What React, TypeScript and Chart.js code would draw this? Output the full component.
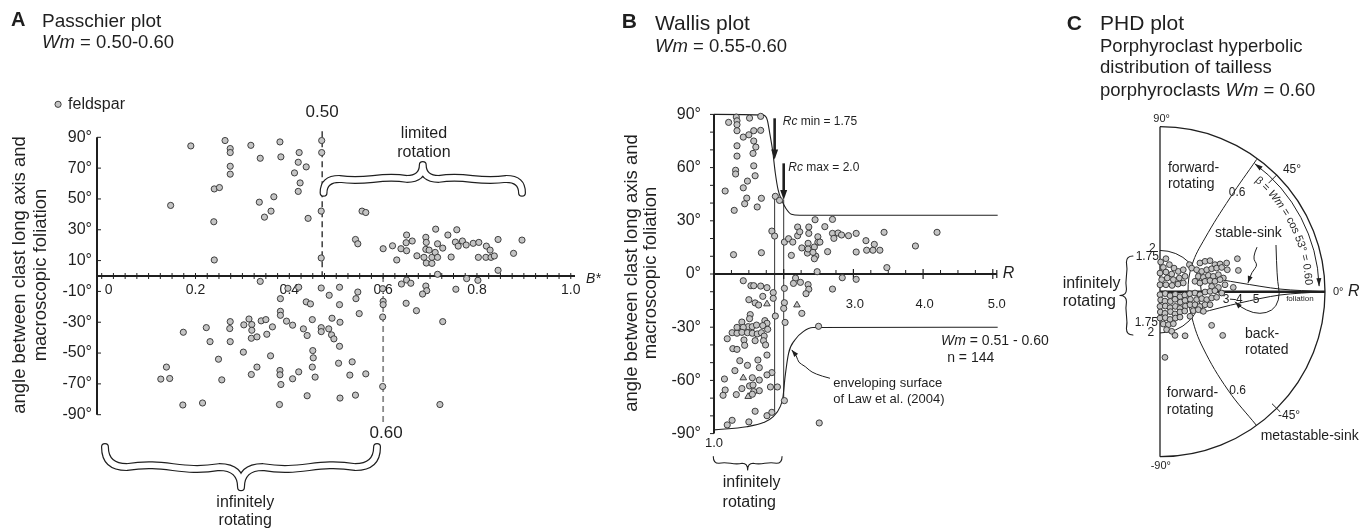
import React, { useEffect, useRef } from "react";
import { Chart, registerables } from "chart.js";

Chart.register(...registerables);

const FIG_W = 1367;
const FIG_H = 531;
const FONT = '"Liberation Sans", Arial, Helvetica, sans-serif';
const INK = "#1f1f1f";
const DOT_FILL = "#c4c4c4";
const DOT_EDGE = "#2e2e2e";

type P = [number, number];

// ---------------- Panel A : Passchier plot (B*, angle) ----------------
const passchierUpper: P[] = [
  [0.190, 84.4], [0.147, 45.8], [0.263, 87.9], [0.274, 82.7], [0.274, 80.1], [0.274, 71.2], [0.274, 66.1],
  [0.240, 56.5], [0.251, 57.4], [0.239, 35.2], [0.240, 10.4], [0.318, 84.8], [0.338, 76.4], [0.380, 87.0],
  [0.382, 77.3], [0.421, 80.1], [0.419, 73.8], [0.436, 70.8], [0.411, 66.9], [0.423, 60.4], [0.419, 54.9],
  [0.336, 47.9], [0.367, 51.4], [0.361, 42.1], [0.347, 38.2], [0.440, 37.4], [0.469, 87.9], [0.469, 80.1],
  [0.468, 42.1], [0.468, 11.7], [0.555, 42.1], [0.563, 41.2], [0.541, 23.7], [0.546, 20.9], [0.600, 17.7],
  [0.620, 19.6], [0.629, 10.4], [0.638, 17.7], [0.650, 26.6], [0.649, 21.6], [0.662, 22.7], [0.650, 16.4],
  [0.672, 13.1], [0.691, 25.1], [0.692, 21.8], [0.691, 17.3], [0.698, 16.8], [0.687, 12.1], [0.692, 8.4],
  [0.704, 8.2], [0.704, 12.1], [0.711, 15.3], [0.716, 12.1], [0.716, 20.9], [0.727, 18.1], [0.712, 30.4],
  [0.716, 1.1], [0.738, 26.6], [0.745, 12.3], [0.757, 30.0], [0.754, 22.0], [0.760, 19.4], [0.769, 22.7],
  [0.777, 20.1], [0.792, 21.2], [0.804, 21.8], [0.803, 12.1], [0.820, 19.4], [0.828, 16.8], [0.819, 12.1],
  [0.830, 12.1], [0.837, 13.0], [0.845, 23.7], [0.845, 3.7], [0.878, 14.7], [0.896, 23.3],
];
const passchierLower: P[] = [
  [0.338, -3.5], [0.397, -8.0], [0.420, -7.3], [0.381, -14.7], [0.381, -22.9], [0.381, -25.5], [0.394, -29.3],
  [0.407, -31.9], [0.314, -27.9], [0.303, -31.7], [0.320, -31.5], [0.320, -35.2], [0.319, -40.4], [0.331, -39.5],
  [0.340, -29.1], [0.350, -28.3], [0.364, -33.0], [0.352, -37.8], [0.360, -51.8], [0.274, -29.6], [0.273, -34.1],
  [0.274, -42.6], [0.223, -33.5], [0.231, -42.6], [0.174, -36.5], [0.249, -54.0], [0.302, -49.4], [0.331, -59.1],
  [0.319, -63.9], [0.256, -67.4], [0.138, -59.1], [0.126, -66.9], [0.145, -66.5], [0.173, -83.7], [0.215, -82.4],
  [0.380, -61.3], [0.380, -64.1], [0.382, -70.4], [0.407, -66.7], [0.379, -83.4], [0.420, -62.2],
  [0.468, -7.8], [0.485, -12.5], [0.507, -7.3], [0.436, -16.8], [0.445, -18.1], [0.507, -18.6], [0.449, -28.3],
  [0.491, -27.4], [0.508, -30.0], [0.430, -34.3], [0.438, -38.6], [0.468, -33.5], [0.468, -36.1], [0.484, -34.3],
  [0.490, -38.2], [0.495, -40.8], [0.507, -45.6], [0.450, -48.4], [0.451, -53.1], [0.449, -59.1], [0.455, -65.6],
  [0.505, -56.6], [0.534, -55.7], [0.529, -64.3], [0.563, -63.5], [0.438, -77.7], [0.508, -79.2], [0.541, -77.3],
  [0.546, -10.4], [0.542, -14.7], [0.549, -24.4], [0.599, -8.2], [0.600, -16.4], [0.600, -18.6], [0.599, -26.6],
  [0.599, -71.7], [0.639, -5.2], [0.650, -2.6], [0.659, -4.7], [0.649, -17.7], [0.671, -22.5], [0.691, -6.5],
  [0.693, -9.5], [0.684, -11.7], [0.755, -8.6], [0.778, -1.7], [0.802, -2.8], [0.727, -29.6], [0.721, -83.4],
];
const passchierXTicks = [0, 0.2, 0.4, 0.6, 0.8, 1.0];
const passchierXTickLabels = ["0", "0.2", "0.4", "0.6", "0.8", "1.0"];
const passchierYTicks = [90, 70, 50, 30, 10, -10, -30, -50, -70, -90];
const passchierCritical = [0.47, 0.6];
const passchierCriticalLabels = ["0.50", "0.60"];

// ---------------- Panel B : Wallis plot (R, angle) ----------------
const wallisCircles: P[] = [
  [1.21, 85.5], [1.32, 88.5], [1.33, 86.4], [1.33, 84.2], [1.33, 80.8], [1.51, 87.9], [1.67, 88.9], [1.42, 77.2],
  [1.50, 78.5], [1.57, 80.8], [1.67, 81.0], [1.57, 75.0], [1.60, 71.6], [1.33, 72.3], [1.33, 66.5], [1.56, 68.0],
  [1.57, 61.0], [1.31, 58.5], [1.31, 56.4], [1.48, 52.4], [1.59, 55.4], [1.42, 48.6], [1.16, 46.8], [1.47, 42.8],
  [1.68, 42.7], [1.44, 39.6], [1.29, 35.9], [1.62, 37.8], [1.88, 43.8], [1.94, 41.5], [1.83, 24.2], [1.87, 21.4],
  [1.28, 10.9], [1.68, 12.0],
  [2.01, 18.0], [2.07, 19.9], [2.13, 18.0], [2.20, 21.6], [2.20, 26.5], [2.23, 23.8], [2.11, 10.5], [2.26, 14.7],
  [2.34, 11.8], [2.36, 26.5], [2.36, 22.9], [2.35, 17.3], [2.35, 14.1], [2.45, 30.6], [2.49, 21.0], [2.49, 17.9],
  [2.52, 18.0], [2.44, 15.2], [2.46, 10.1], [2.42, 12.2], [2.44, 8.6], [2.48, 1.3], [2.59, 26.7], [2.70, 30.8],
  [2.63, 12.6], [2.70, 22.9], [2.72, 20.1], [2.78, 23.1], [2.83, 22.0], [2.93, 21.6], [3.04, 22.9], [3.04, 12.4],
  [3.18, 18.8], [3.30, 16.7], [3.19, 13.4], [3.28, 13.4], [3.38, 13.4], [3.44, 23.5], [3.48, 3.6], [3.89, 15.8],
  [4.20, 23.5],
  [2.01, -8.1], [2.01, -16.2], [2.00, -19.4], [2.02, -27.3], [2.01, -71.4], [2.17, -2.3], [2.14, -5.3], [2.24, -4.7],
  [2.35, -6.0], [2.36, -8.6], [2.32, -11.1], [2.26, -22.2], [2.50, -29.5], [2.51, -84.0], [2.70, -8.5], [2.84, -2.1],
  [3.04, -3.0],
  [1.42, -3.8], [1.53, -6.6], [1.57, -6.6], [1.67, -6.8], [1.76, -7.7], [1.85, -10.5], [1.70, -12.6], [1.85, -13.7],
  [1.50, -14.5], [1.59, -16.3], [1.64, -17.5], [1.88, -23.7], [1.52, -22.9], [1.51, -25.2], [1.40, -27.1], [1.49, -29.7],
  [1.33, -30.1], [1.42, -30.1], [1.55, -29.7], [1.61, -28.8], [1.73, -26.3], [1.76, -27.8], [1.70, -29.1], [1.77, -31.2],
  [1.26, -33.1], [1.33, -33.4], [1.40, -32.9], [1.48, -33.1], [1.55, -33.4], [1.62, -33.8], [1.68, -33.1], [1.72, -35.0],
  [1.19, -36.5], [1.43, -37.2], [1.59, -37.6], [1.71, -37.6], [1.74, -40.0], [1.44, -40.2], [1.27, -42.1], [1.33, -42.5],
  [1.76, -45.7], [1.37, -48.9], [1.63, -48.5], [1.48, -51.5], [1.65, -52.8], [1.30, -54.5], [1.83, -55.6], [1.76, -56.9],
  [1.15, -59.2], [1.55, -58.5], [1.65, -59.8], [1.81, -63.7], [1.91, -63.7], [1.51, -63.1], [1.40, -64.6], [1.56, -62.6],
  [1.65, -65.8], [1.57, -66.3], [1.16, -65.4], [1.32, -68.0], [1.55, -67.8], [1.13, -68.4], [1.59, -77.4], [1.76, -79.9],
  [1.83, -78.0], [1.50, -83.4], [1.26, -82.5], [1.19, -85.1],
];
const wallisTriangles: P[] = [[1.76, -16.9], [2.19, -17.5], [1.42, -58.6], [1.49, -69.1]];
const wallisUpperEnvelope: P[] = [
  [1.0, 90], [1.71, 89.6], [1.765, 86.8], [1.80, 79.3], [1.84, 69.9], [1.88, 56.8], [1.92, 47.4],
  [1.97, 41.7], [2.03, 37.1], [2.11, 33.7], [2.23, 33.1], [5.07, 33.1],
];
const wallisLowerEnvelope: P[] = [
  [1.0, -87.9], [1.47, -86.1], [1.71, -83.8], [1.85, -80.4], [1.95, -74.8], [1.99, -69.2], [2.02, -57.9],
  [2.07, -44.7], [2.16, -37.2], [2.28, -32.5], [2.42, -30.2], [5.07, -30.0],
];
const wallisRc = [1.87, 2.0];
const wallisRcSpan: P[] = [[45, -78], [42, -72]];
const wallisXTicks = [3, 4, 5];
const wallisXTickLabels = ["3.0", "4.0", "5.0"];
const wallisYTicks = [90, 60, 30, 0, -30, -60, -90];

// ---------------- Panel C : PHD plot (normalised net coordinates) ----------------
const phdPoints: P[] = [
  [0.004, 0.180], [0.036, 0.200], [0.020, 0.147], [0.057, 0.164], [0.085, 0.143], [0.000, 0.113], [0.036, 0.119],
  [0.071, 0.107], [0.111, 0.123], [0.141, 0.133], [0.010, 0.073], [0.044, 0.083], [0.081, 0.073], [0.117, 0.083],
  [0.152, 0.093], [0.000, 0.042], [0.036, 0.042], [0.073, 0.038], [0.109, 0.046], [0.141, 0.053], [0.178, 0.164],
  [0.192, 0.143],
  [0.242, 0.174], [0.273, 0.184], [0.303, 0.188], [0.333, 0.164], [0.364, 0.168], [0.404, 0.174], [0.408, 0.133],
  [0.469, 0.200], [0.475, 0.129], [0.222, 0.133], [0.253, 0.123], [0.283, 0.133], [0.313, 0.139], [0.343, 0.143],
  [0.374, 0.147], [0.232, 0.093], [0.263, 0.087], [0.293, 0.099], [0.323, 0.093], [0.354, 0.103], [0.384, 0.083],
  [0.212, 0.063], [0.242, 0.053], [0.273, 0.063], [0.303, 0.067], [0.333, 0.063], [0.364, 0.073], [0.394, 0.042],
  [0.444, 0.026], [0.313, 0.032], [0.354, 0.026],
  [0.000, -0.018], [0.032, -0.012], [0.061, -0.024], [0.093, -0.016], [0.121, -0.030], [0.150, -0.020], [0.180, -0.012],
  [0.004, -0.050], [0.030, -0.057], [0.063, -0.059], [0.091, -0.046], [0.123, -0.063], [0.152, -0.053], [0.184, -0.046],
  [0.000, -0.089], [0.032, -0.087], [0.061, -0.097], [0.093, -0.089], [0.121, -0.101], [0.154, -0.087], [0.182, -0.079],
  [0.002, -0.123], [0.030, -0.131], [0.063, -0.121], [0.091, -0.135], [0.121, -0.123], [0.150, -0.117],
  [0.000, -0.160], [0.032, -0.158], [0.061, -0.168], [0.093, -0.160], [0.121, -0.154],
  [0.020, -0.196], [0.051, -0.200], [0.081, -0.194], [0.040, -0.230], [0.071, -0.240], [0.091, -0.265],
  [0.212, -0.008], [0.242, -0.018], [0.273, -0.002], [0.303, 0.002], [0.333, 0.006], [0.374, -0.008], [0.222, -0.048],
  [0.253, -0.042], [0.283, -0.048], [0.313, -0.038], [0.343, -0.034], [0.212, -0.079], [0.242, -0.089], [0.273, -0.079],
  [0.303, -0.079], [0.202, -0.115], [0.232, -0.109], [0.263, -0.119], [0.182, -0.149],
  [0.313, -0.204], [0.152, -0.267], [0.380, -0.265], [0.030, -0.398],
];
const phdBoundary06: P[] = [
  [0.586, 0.802], [0.424, 0.568], [0.273, 0.325], [0.194, 0.162], [0.170, 0.001], [0.194, -0.159], [0.261, -0.341],
  [0.412, -0.596], [0.586, -0.812],
];
const phdSinkUpper: P[] = [[0.242, 0.095], [0.485, 0.053], [0.727, 0.016], [0.988, 0.0]];
const phdSinkLower: P[] = [[0.242, -0.129], [0.485, -0.068], [0.727, -0.020], [0.988, 0.0]];
const phdRLabels = ["3", "4", "5"];
const phdRLabelX = [0.4, 0.481, 0.582];

// ---------------- drawing helpers ----------------
type Ctx = CanvasRenderingContext2D;
type Opt = { bold?: boolean; italic?: boolean; color?: string };

function font(size: number, o: Opt = {}) {
  return `${o.italic ? "italic " : ""}${o.bold ? "bold " : ""}${size}px ${FONT}`;
}
function text(ctx: Ctx, s: string, x: number, y: number, size: number, align: CanvasTextAlign = "left", o: Opt = {}) {
  ctx.save();
  ctx.font = font(size, o);
  ctx.fillStyle = o.color || INK;
  ctx.textAlign = align;
  ctx.textBaseline = "middle";
  ctx.fillText(s, x, y);
  ctx.restore();
}
function runs(ctx: Ctx, parts: [string, boolean][], x: number, y: number, size: number, align: string = "left") {
  ctx.save();
  ctx.textBaseline = "middle";
  ctx.textAlign = "left";
  ctx.fillStyle = INK;
  let total = 0;
  const widths = parts.map(([s, it]) => {
    ctx.font = font(size, { italic: it });
    const w = ctx.measureText(s).width;
    total += w;
    return w;
  });
  let cx = align === "center" ? x - total / 2 : align === "right" ? x - total : x;
  parts.forEach(([s, it], i) => {
    ctx.font = font(size, { italic: it });
    ctx.fillText(s, cx, y);
    cx += widths[i];
  });
  ctx.restore();
}
function vtext(ctx: Ctx, s: string, x: number, y: number, size: number) {
  ctx.save();
  ctx.translate(x, y);
  ctx.rotate(-Math.PI / 2);
  ctx.font = font(size);
  ctx.fillStyle = INK;
  ctx.textAlign = "center";
  ctx.textBaseline = "middle";
  ctx.fillText(s, 0, 0);
  ctx.restore();
}
function seg(ctx: Ctx, x1: number, y1: number, x2: number, y2: number, lw: number, color: string = INK) {
  ctx.lineWidth = lw;
  ctx.strokeStyle = color;
  ctx.beginPath();
  ctx.moveTo(x1, y1);
  ctx.lineTo(x2, y2);
  ctx.stroke();
}
function head(ctx: Ctx, x: number, y: number, ang: number, len: number, wid: number) {
  ctx.save();
  ctx.translate(x, y);
  ctx.rotate(ang);
  ctx.beginPath();
  ctx.moveTo(0, 0);
  ctx.lineTo(-len, -wid / 2);
  ctx.lineTo(-len, wid / 2);
  ctx.closePath();
  ctx.fillStyle = INK;
  ctx.fill();
  ctx.restore();
}
function smoothPath(ctx: Ctx, p: P[], lw: number) {
  ctx.lineWidth = lw;
  ctx.strokeStyle = INK;
  ctx.beginPath();
  ctx.moveTo(p[0][0], p[0][1]);
  for (let i = 1; i < p.length - 1; i++) {
    const mx = (p[i][0] + p[i + 1][0]) / 2;
    const my = (p[i][1] + p[i + 1][1]) / 2;
    ctx.quadraticCurveTo(p[i][0], p[i][1], mx, my);
  }
  ctx.lineTo(p[p.length - 1][0], p[p.length - 1][1]);
  ctx.stroke();
  const a = p[p.length - 2], b = p[p.length - 1];
  head(ctx, b[0], b[1], Math.atan2(b[1] - a[1], b[0] - a[0]), 7, 5);
}
function brace(ctx: Ctx, x1: number, y1: number, x2: number, y2: number, depth: number, outline: boolean) {
  const L = Math.hypot(x2 - x1, y2 - y1);
  const ang = Math.atan2(y2 - y1, x2 - x1);
  const h = L / 2, yb = -depth / 2, w = depth * 0.16;
  ctx.save();
  ctx.translate(x1, y1);
  ctx.rotate(ang);
  ctx.beginPath();
  ctx.moveTo(0, 0);
  ctx.quadraticCurveTo(0, yb, 0.16 * h, yb);
  ctx.bezierCurveTo(0.45 * h, yb + w, 0.55 * h, yb - w, 0.84 * h, yb);
  ctx.quadraticCurveTo(h, yb, h, -depth);
  ctx.quadraticCurveTo(h, yb, 1.16 * h, yb);
  ctx.bezierCurveTo(1.45 * h, yb - w, 1.55 * h, yb + w, 1.84 * h, yb);
  ctx.quadraticCurveTo(L, yb, L, 0);
  ctx.lineJoin = "round";
  ctx.lineCap = "round";
  if (outline) {
    ctx.strokeStyle = INK;
    ctx.lineWidth = 8;
    ctx.stroke();
    ctx.strokeStyle = "#ffffff";
    ctx.lineWidth = 5.6;
    ctx.stroke();
  } else {
    ctx.strokeStyle = INK;
    ctx.lineWidth = 1.1;
    ctx.stroke();
  }
  ctx.restore();
}
function dot(ctx: Ctx, x: number, y: number, r: number) {
  ctx.beginPath();
  ctx.arc(x, y, r, 0, Math.PI * 2);
  ctx.fillStyle = DOT_FILL;
  ctx.fill();
  ctx.lineWidth = 0.9;
  ctx.strokeStyle = DOT_EDGE;
  ctx.stroke();
}
function arcText(ctx: Ctx, parts: [string, boolean][], cx: number, cy: number, r: number, startDeg: number, size: number) {
  let th = (startDeg * Math.PI) / 180;
  ctx.save();
  ctx.fillStyle = INK;
  ctx.textAlign = "center";
  ctx.textBaseline = "middle";
  for (const [s, it] of parts) {
    ctx.font = font(size, { italic: it });
    for (const ch of s) {
      const w = ctx.measureText(ch).width;
      const tc = th - w / 2 / r;
      ctx.save();
      ctx.translate(cx + r * Math.cos(tc), cy - r * Math.sin(tc));
      ctx.rotate(Math.PI / 2 - tc);
      ctx.fillText(ch, 0, 0);
      ctx.restore();
      th -= w / r;
    }
  }
  ctx.restore();
}
function scalers(chart: any) {
  const sx = (v: number) => chart.scales.x.getPixelForValue(v);
  const sy = (v: number) => chart.scales.y.getPixelForValue(v);
  return { sx, sy };
}

// ---------------- panel decorations ----------------
const passchierDecor = {
  id: "passchierDecor",
  beforeDatasetsDraw(chart: any) {
    const ctx: Ctx = chart.ctx;
    const { sx, sy } = scalers(chart);
    const { left, right } = chart.chartArea;
    const y0 = sy(0);
    ctx.save();
    ctx.setLineDash([6, 4]);
    seg(ctx, sx(passchierCritical[0]), sy(90) - 6, sx(passchierCritical[0]), y0, 1.3, INK);
    seg(ctx, sx(passchierCritical[1]), y0, sx(passchierCritical[1]), sy(-90) + 8, 1.8, "#8a8a8a");
    ctx.setLineDash([]);
    seg(ctx, left, sy(90), left, sy(-90), 2);
    seg(ctx, left, y0, right, y0, 2);
    for (let i = 0; i <= 40; i++) {
      const x = sx(i * 0.025);
      seg(ctx, x, y0 - 3, x, y0 + 3, 1);
    }
    passchierYTicks.forEach((v) => {
      seg(ctx, left, sy(v), left + 4, sy(v), 1);
      text(ctx, `${v}°`, left - 5, sy(v), 16, "right");
    });
    passchierXTicks.forEach((v, i) => text(ctx, passchierXTickLabels[i], sx(v) + (v === 0 ? 7 : 0), y0 + 14, 14, "center"));
    runs(ctx, [["B*", true]], right + 11, y0 + 3, 14);
    text(ctx, passchierCriticalLabels[0], sx(passchierCritical[0]), sy(90) - 25, 17, "center");
    text(ctx, passchierCriticalLabels[1], sx(passchierCritical[1]) + 3, sy(-90) + 19, 17, "center");
    ctx.restore();
  },
  afterDatasetsDraw(chart: any) {
    const ctx: Ctx = chart.ctx;
    const { sx, sy } = scalers(chart);
    ctx.save();
    brace(ctx, sx(0.473), sy(54), sx(0.896), sy(54), sy(54) - sy(72), true);
    text(ctx, "limited", sx(0.687), sy(92.6), 16, "center");
    text(ctx, "rotation", sx(0.687), sy(80.3), 16, "center");
    brace(ctx, sx(0.587), sy(-111), sx(0.007), sy(-111), sy(-137) - sy(-111), true);
    text(ctx, "infinitely", sx(0.306), sy(-147), 16, "center");
    text(ctx, "rotating", sx(0.306), sy(-159), 16, "center");
    dot(ctx, sx(-0.093), sy(111.4), 3.1);
    text(ctx, "feldspar", sx(-0.093) + 10, sy(111.4), 16);
    vtext(ctx, "angle between clast long axis and", 20, 275, 18.5);
    vtext(ctx, "macroscopic foliation", 41, 275, 18.5);
    text(ctx, "A", 11, 20.5, 20, "left", { bold: true });
    text(ctx, "Passchier plot", 42, 21.5, 19);
    runs(ctx, [["Wm", true], [" = 0.50-0.60", false]], 42, 43.3, 18.5);
    ctx.restore();
  },
};

const wallisDecor = {
  id: "wallisDecor",
  beforeDatasetsDraw(chart: any) {
    const ctx: Ctx = chart.ctx;
    const { sx, sy } = scalers(chart);
    const { left, right } = chart.chartArea;
    const y0 = sy(0);
    ctx.save();
    wallisRc.forEach((r, i) => seg(ctx, sx(r), sy(wallisRcSpan[i][0]), sx(r), sy(wallisRcSpan[i][1]), 1, "#333"));
    seg(ctx, left, sy(90), left, sy(-90), 2);
    seg(ctx, left, y0, right + 4, y0, 2);
    seg(ctx, right + 4, y0 - 4, right + 4, y0 + 4, 1.2);
    for (let v = -90; v <= 90; v += 10) seg(ctx, left - 4, sy(v), left, sy(v), 1);
    wallisYTicks.forEach((v) => text(ctx, `${v}°`, left - 13, sy(v), 16, "right"));
    for (let i = 0; i <= 16; i++) {
      const v = 1 + i * 0.25;
      const x = sx(v);
      if (i % 4 === 0) seg(ctx, x, y0 - 5, x, y0 + 5, 1.2);
      else seg(ctx, x, y0 - 4, x, y0, 1);
    }
    wallisXTicks.forEach((v, i) => text(ctx, wallisXTickLabels[i], sx(v) + (i === 2 ? 4 : 1.5), y0 + 30, 13, "center"));
    text(ctx, "1.0", sx(1), sy(-90) + 10, 13, "center");
    runs(ctx, [["R", true]], right + 10, y0, 16);
    ctx.restore();
  },
  afterDatasetsDraw(chart: any) {
    const ctx: Ctx = chart.ctx;
    const { sx, sy } = scalers(chart);
    ctx.save();
    const arrow = (x: number, top: number, tip: number) => {
      seg(ctx, x, top, x, tip - 8, 2.6);
      head(ctx, x, tip, Math.PI / 2, 10, 7);
    };
    arrow(sx(wallisRc[0]), sy(87.8), sy(64.6));
    arrow(sx(wallisRc[1]), sy(62.4), sy(41.7));
    runs(ctx, [["Rc", true], [" min = 1.75", false]], sx(1.986), sy(85.9), 12);
    runs(ctx, [["Rc", true], [" max = 2.0", false]], sx(2.066), sy(59.9), 12);
    const leader: P[] = [[2.664, -58.8], [2.426, -56.4], [2.306, -51.9], [2.21, -50.0], [2.187, -46.2], [2.115, -42.8]];
    smoothPath(ctx, leader.map(([r, a]) => [sx(r), sy(a)] as P), 1);
    text(ctx, "enveloping surface", sx(2.71), sy(-61.6), 13);
    text(ctx, "of Law et al. (2004)", sx(2.71), sy(-70.6), 13);
    runs(ctx, [["Wm", true], [" = 0.51 - 0.60", false]], sx(4.257), sy(-37.6), 14);
    text(ctx, "n = 144", sx(4.345), sy(-47.4), 14);
    brace(ctx, sx(1.976), sy(-103), sx(0.99), sy(-103), sy(-110.5) - sy(-103), false);
    text(ctx, "infinitely", sx(1.54), sy(-117.4), 16, "center");
    text(ctx, "rotating", sx(1.506), sy(-128.7), 16, "center");
    vtext(ctx, "angle between clast long axis and", 632, 273, 18.5);
    vtext(ctx, "macroscopic foliation", 651, 273, 18.5);
    text(ctx, "B", 621.7, 22.5, 21, "left", { bold: true });
    text(ctx, "Wallis plot", 655, 24, 21);
    runs(ctx, [["Wm", true], [" = 0.55-0.60", false]], 655, 46.7, 18.5);
    ctx.restore();
  },
};

const phdDecor = {
  id: "phdDecor",
  beforeDatasetsDraw(chart: any) {
    const ctx: Ctx = chart.ctx;
    const { sx, sy } = scalers(chart);
    const cx = sx(0), cy = sy(0), r = sx(1) - sx(0);
    const d2r = Math.PI / 180;
    ctx.save();
    ctx.strokeStyle = INK;
    ctx.lineWidth = 1.3;
    ctx.beginPath();
    ctx.arc(cx, cy, r, -Math.PI / 2, Math.PI / 2);
    ctx.stroke();
    seg(ctx, cx, sy(1), cx, sy(-1), 1.3);
    seg(ctx, cx, cy, sx(1), cy, 2.4);
    ctx.lineWidth = 1;
    ctx.beginPath();
    ctx.arc(cx, cy, 0.25 * r, -Math.PI / 2, Math.PI / 2);
    ctx.stroke();
    const rr = 0.965 * r, a1 = -53.5 * d2r, a2 = -2 * d2r;
    ctx.beginPath();
    ctx.arc(cx, cy, rr, a1, a2);
    ctx.stroke();
    head(ctx, cx + rr * Math.cos(a1), cy + rr * Math.sin(a1), Math.atan2(-Math.cos(a1), Math.sin(a1)), 8, 5);
    head(ctx, cx + rr * Math.cos(a2), cy + rr * Math.sin(a2), Math.atan2(Math.cos(a2), -Math.sin(a2)), 8, 5);
    const tick = (deg: number, r1: number, r2: number) =>
      seg(ctx, cx + r1 * r * Math.cos(deg * d2r), cy - r1 * r * Math.sin(deg * d2r), cx + r2 * r * Math.cos(deg * d2r), cy - r2 * r * Math.sin(deg * d2r), 1);
    tick(45, 0.93, 1.0);
    tick(-45, 0.96, 1.03);
    seg(ctx, sx(0.424), sy(-0.045), sx(0.46), sy(-0.048), 1);
    text(ctx, "90°", sx(0.01), sy(1.047), 11, "center");
    text(ctx, "-90°", sx(0.005), sy(-1.055), 11, "center");
    text(ctx, "0°", sx(1.048), cy, 11);
    runs(ctx, [["R", true]], sx(1.139), cy, 16);
    text(ctx, "45°", sx(0.745), sy(0.738), 12);
    text(ctx, "-45°", sx(0.715), sy(-0.752), 12);
    text(ctx, "2", sx(-0.047), sy(0.263), 12, "center");
    text(ctx, "1.75", sx(-0.006), sy(0.212), 12, "right");
    text(ctx, "1.75", sx(-0.012), sy(-0.188), 12, "right");
    text(ctx, "2", sx(-0.056), sy(-0.248), 12, "center");
    phdRLabels.forEach((s, i) => text(ctx, s, sx(phdRLabelX[i]), sy(-0.05), 12, "center"));
    text(ctx, "foliation", sx(0.848), sy(-0.044), 8, "center");
    ctx.restore();
  },
  afterDatasetsDraw(chart: any) {
    const ctx: Ctx = chart.ctx;
    const { sx, sy } = scalers(chart);
    const cx = sx(0), cy = sy(0), r = sx(1) - sx(0);
    ctx.save();
    arcText(ctx, [["β = ", false], ["Wm", true], [" = cos 53° = 0.60", false]], cx, cy, 0.9 * r, 49.5, 11);
    text(ctx, "forward-", sx(0.048), sy(0.748), 14);
    text(ctx, "rotating", sx(0.048), sy(0.651), 14);
    text(ctx, "0.6", sx(0.467), sy(0.598), 12, "center");
    text(ctx, "stable-sink", sx(0.333), sy(0.354), 14);
    text(ctx, "back-", sx(0.515), sy(-0.256), 14);
    text(ctx, "rotated", sx(0.515), sy(-0.353), 14);
    text(ctx, "forward-", sx(0.041), sy(-0.616), 14);
    text(ctx, "rotating", sx(0.041), sy(-0.717), 14);
    text(ctx, "0.6", sx(0.47), sy(-0.602), 12, "center");
    text(ctx, "metastable-sink", sx(0.61), sy(-0.873), 14);
    text(ctx, "infinitely", sx(-0.59), sy(0.051), 16);
    text(ctx, "rotating", sx(-0.59), sy(-0.061), 16);
    brace(ctx, sx(-0.164), sy(-0.262), sx(-0.164), sy(0.216), 13, false);
    const back: P[] = [[0.703, 0.283], [0.709, 0.071], [0.727, -0.008], [0.707, -0.091], [0.646, -0.131], [0.565, -0.131], [0.485, -0.091], [0.455, -0.061]];
    smoothPath(ctx, back.map(([x, y]) => [sx(x), sy(y)] as P), 1);
    const sink: P[] = [[0.588, 0.27], [0.558, 0.205], [0.594, 0.162], [0.556, 0.119], [0.533, 0.053]];
    smoothPath(ctx, sink.map(([x, y]) => [sx(x), sy(y)] as P), 1);
    text(ctx, "C", 1066.7, 24.2, 21, "left", { bold: true });
    text(ctx, "PHD plot", 1100, 24, 21);
    text(ctx, "Porphyroclast hyperbolic", 1100, 46.7, 18.5);
    text(ctx, "distribution of tailless", 1100, 68.3, 18.5);
    runs(ctx, [["porphyroclasts ", false], ["Wm", true], [" = 0.60", false]], 1100, 90.7, 18.5);
    ctx.restore();
  },
};

// ---------------- chart factory ----------------
type Area = { left: number; right: number; top: number; bottom: number };
function pts(list: P[]) {
  return list.map(([x, y]) => ({ x, y }));
}
function dotSet(list: P[], r: number, extra: any = {}) {
  return {
    data: pts(list), showLine: false, pointRadius: r, pointHoverRadius: r,
    pointBackgroundColor: DOT_FILL, pointBorderColor: DOT_EDGE, pointBorderWidth: 0.9, clip: false, ...extra,
  };
}
function curveSet(list: P[], extra: any = {}) {
  return {
    data: pts(list), showLine: true, pointRadius: 0, pointHoverRadius: 0, borderColor: INK,
    borderWidth: 1.1, fill: false, clip: false, ...extra,
  };
}
function makeChart(canvas: HTMLCanvasElement, area: Area, xr: P, yr: P, datasets: any[], plugin: any) {
  return new Chart(canvas, {
    type: "scatter",
    data: { datasets },
    options: {
      animation: false,
      responsive: false,
      maintainAspectRatio: false,
      events: [],
      layout: {
        autoPadding: false,
        padding: { left: area.left, top: area.top, right: FIG_W - area.right, bottom: FIG_H - area.bottom },
      },
      plugins: { legend: { display: false }, tooltip: { enabled: false }, colors: { enabled: false } },
      scales: {
        x: { type: "linear", display: false, min: xr[0], max: xr[1] },
        y: { type: "linear", display: false, min: yr[0], max: yr[1] },
      },
    } as any,
    plugins: [plugin],
  });
}

const makePasschier = (c: HTMLCanvasElement) =>
  makeChart(c, { left: 97, right: 575, top: 137.3, bottom: 414.7 }, [-0.01, 1.009], [-90, 90],
    [dotSet(passchierUpper.concat(passchierLower), 3.1)], passchierDecor);

const makeWallis = (c: HTMLCanvasElement) =>
  makeChart(c, { left: 714, right: 992.8, top: 114.4, bottom: 433.6 }, [1, 5], [-90, 90],
    [
      dotSet(wallisCircles, 3.1),
      dotSet(wallisTriangles, 3.8, { pointStyle: "triangle" }),
      curveSet(wallisUpperEnvelope, { cubicInterpolationMode: "monotone" }),
      curveSet(wallisLowerEnvelope, { cubicInterpolationMode: "monotone" }),
    ], wallisDecor);

const makePhd = (c: HTMLCanvasElement) =>
  makeChart(c, { left: 1160, right: 1325, top: 126.7, bottom: 456.7 }, [0, 1], [-1, 1],
    [
      dotSet(phdPoints, 2.9),
      curveSet(phdBoundary06, { tension: 0.4, borderWidth: 1 }),
      curveSet(phdSinkUpper, { tension: 0.3, borderWidth: 1 }),
      curveSet(phdSinkLower, { tension: 0.3, borderWidth: 1 }),
    ], phdDecor);

function Panel({ make }: { make: (c: HTMLCanvasElement) => Chart }) {
  const ref = useRef<HTMLCanvasElement>(null);
  useEffect(() => {
    const chart = make(ref.current as HTMLCanvasElement);
    return () => chart.destroy();
  }, []);
  return (
    <canvas
      ref={ref}
      width={FIG_W}
      height={FIG_H}
      style={{ position: "absolute", left: 0, top: 0, width: FIG_W, height: FIG_H }}
    />
  );
}

export default function App() {
  useEffect(() => {
    document.body.style.margin = "0";
  }, []);
  return (
    <div style={{ position: "absolute", left: 0, top: 0, width: FIG_W, height: FIG_H, background: "#ffffff", overflow: "hidden" }}>
      <Panel make={makePasschier} />
      <Panel make={makeWallis} />
      <Panel make={makePhd} />
    </div>
  );
}
